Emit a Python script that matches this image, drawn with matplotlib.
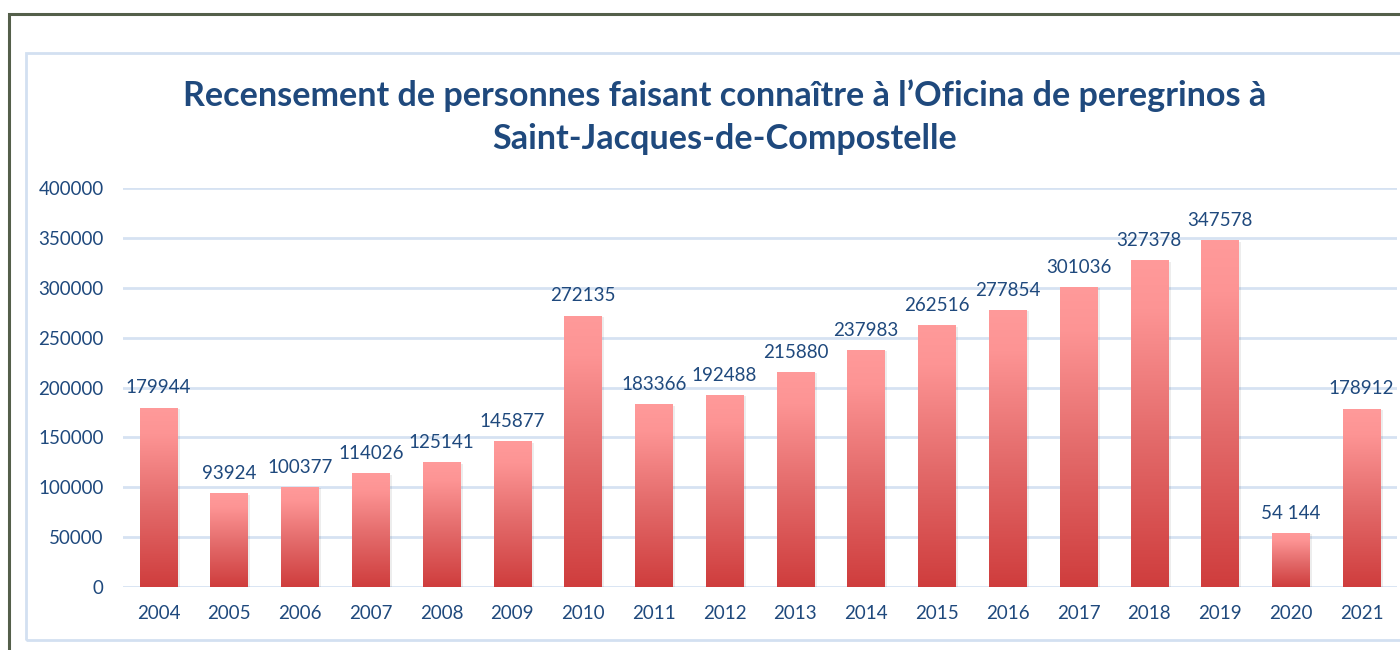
import numpy as np
import matplotlib.pyplot as plt
from matplotlib.colors import LinearSegmentedColormap
from matplotlib.patches import Rectangle

# %% Data
years = ['2004', '2005', '2006', '2007', '2008', '2009', '2010', '2011', '2012',
         '2013', '2014', '2015', '2016', '2017', '2018', '2019', '2020', '2021']
pilgrims = [179944, 93924, 100377, 114026, 125141, 145877, 272135, 183366, 192488,
            215880, 237983, 262516, 277854, 301036, 327378, 347578, 54144, 178912]
labels = ['179944', '93924', '100377', '114026', '125141', '145877', '272135', '183366',
          '192488', '215880', '237983', '262516', '277854', '301036', '327378',
          '347578', '54 144', '178912']
yticks = [0, 50000, 100000, 150000, 200000, 250000, 300000, 350000, 400000]

title = "Recensement de personnes faisant connaître à l’Oficina de peregrinos à\nSaint-Jacques-de-Compostelle"

# %% Style
dark_blue = '#1f497d'
grid_blue = '#d6e2f2'
plt.rcParams['font.family'] = ['Lato', 'DejaVu Sans']

fig = plt.figure(figsize=(14, 6.5), dpi=100)
fig.patch.set_facecolor('white')

# outer frame and inner chart border
fig.add_artist(Rectangle((9/1400, -0.1), 1.2, 1 - 14/650 + 0.1, transform=fig.transFigure,
                         fill=False, edgecolor='#545f4a', lw=2.2))
fig.add_artist(Rectangle((26/1400, 1 - 640/650), 1.2, (640 - 53)/650, transform=fig.transFigure,
                         fill=False, edgecolor='#d3e0f1', lw=2.0))

ax = fig.add_axes([123/1400, 1 - 587/650, (1397 - 123)/1400, (587 - 188)/650])
ax.set_xlim(-0.5, 17.5)
ax.set_ylim(0, 400000)
for s in ax.spines.values():
    s.set_visible(False)
ax.set_yticks(yticks)
ax.set_yticklabels([str(v) for v in yticks])
ax.yaxis.grid(True, color=grid_blue, lw=2.0)
ax.set_axisbelow(True)
ax.tick_params(length=0, labelsize=13.5, colors=dark_blue)
ax.tick_params(axis='x', pad=13)
ax.tick_params(axis='y', pad=14)

x = np.arange(len(years))
ax.set_xticks(x)
ax.set_xticklabels(years)

# gradient bars
cmap = LinearSegmentedColormap.from_list('bar', [(0, '#cf3d3d'), (0.45, '#e36a6a'), (0.85, '#fd9494'), (1, '#ff9a9a')])
grad = np.linspace(0, 1, 256).reshape(-1, 1)
bars = ax.bar(x, pilgrims, width=0.53, color='none', zorder=3)
for b in bars:
    x0, y0, w, h = b.get_x(), b.get_y(), b.get_width(), b.get_height()
    # soft shadow
    ax.bar(x0 + w / 2 + 0.035, h, width=w, bottom=-1500, color='#000000', alpha=0.07, zorder=2)
    im = ax.imshow(grad, cmap=cmap, origin='lower', aspect='auto',
                   extent=[x0, x0 + w, y0, y0 + h], zorder=3)
    im.set_clip_path(b)
ax.set_xlim(-0.5, 17.5)
ax.set_ylim(0, 400000)

for xi, v, lab in zip(x, pilgrims, labels):
    ax.annotate(lab, (xi, v), xytext=(0, 8), textcoords='offset points',
                ha='center', va='bottom', fontsize=13.5, color=dark_blue)

fig.text(725/1400, 1 - 117/650, title, ha='center', va='center', fontsize=24.6,
         fontweight='bold', color=dark_blue, linespacing=1.4)

fig.savefig('out.png', dpi=100)
